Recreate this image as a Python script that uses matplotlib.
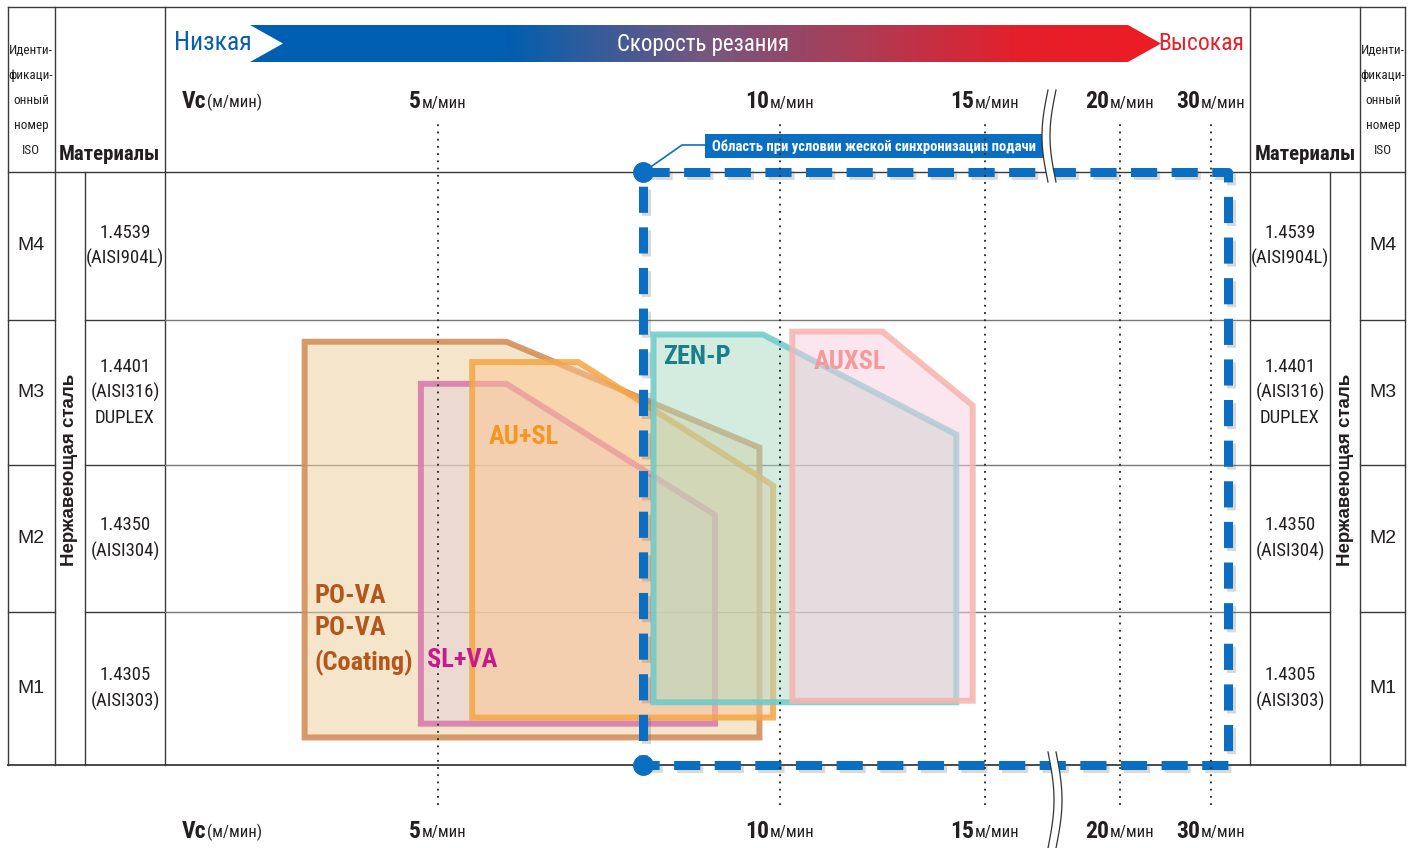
import matplotlib
matplotlib.use("Agg")
import matplotlib.pyplot as plt
import numpy as np
from matplotlib import patheffects
from matplotlib.colors import LinearSegmentedColormap
from matplotlib.offsetbox import AnnotationBbox, HPacker, TextArea
from matplotlib.patches import Polygon, Rectangle


# --- data -----------------------------------------------------------------
VC_TICKS = [5, 10, 15, 20, 30]                 # m/min
ISO_CODES = ["M1", "M2", "M3", "M4"]
MATERIALS = [
    "1.4305\n(AISI303)",
    "1.4350\n(AISI304)",
    "1.4401\n(AISI316)\nDUPLEX",
    "1.4539\n(AISI904L)",
]
GROUP = "Нержавеющая сталь"

TOOLS = ["PO-VA", "SL+VA", "AU+SL", "ZEN-P", "AUXSL"]
VC_MIN = [3.05, 4.75, 5.5, 8.15, 10.3]
VC_KNEE = [6.0, 6.0, 7.05, 9.75, 12.5]
VC_MAX = [9.7, 9.05, 9.9, 14.3, 14.7]
ROW_LOW = [0.18, 0.27, 0.31, 0.41, 0.42]      # 0 = bottom of M1, 4 = top of M4
ROW_HIGH = [2.85, 2.56, 2.71, 2.90, 2.92]
ROW_KNEE = [2.12, 1.66, 1.86, 2.21, 2.41]

SYNC_VC = [8.0, 31.9]
SYNC_ROWS = [0.0, 4.0]

# --- layout ---------------------------------------------------------------
W, H = 1411, 848
VC_TICK_PX = [438, 780, 985, 1120, 1211]       # broken, non-linear speed axis
ROW_EDGE_PX = [765, 612, 465, 320, 172]
CHART_X = (165, 1250)

FILL = ["#ebcd99", "#e5ced4", "#fdc690", "#abd9c1", "#f9cddf"]
EDGE = ["#d08a55", "#d676ab", "#f5a645", "#6ccaca", "#f6b4ae"]
LABEL_COLOR = ["#b5561c", "#c81a8c", "#f5961e", "#17808a", "#f59a9a"]
BLUE = "#0a6fc2"
INK = "#231f20"

NARROW = dict(family=["Roboto Condensed", "DejaVu Sans"], fontstretch="condensed")
SANS = dict(family=["Liberation Sans", "DejaVu Sans"])


def piecewise(x, xs, ys):
    x = np.asarray(x, dtype=float)
    xs = np.asarray(xs, dtype=float)
    ys = np.asarray(ys, dtype=float)
    y = np.interp(x, xs, ys)
    left = ys[0] + (x - xs[0]) * (ys[1] - ys[0]) / (xs[1] - xs[0])
    right = ys[-1] + (x - xs[-1]) * (ys[-1] - ys[-2]) / (xs[-1] - xs[-2])
    return np.where(x < xs[0], left, np.where(x > xs[-1], right, y))


def vc_fwd(v):
    return piecewise(v, VC_TICKS, VC_TICK_PX)


def vc_inv(p):
    return piecewise(p, VC_TICK_PX, VC_TICKS)


NEG_ROW_PX = [-p for p in ROW_EDGE_PX]


def row_fwd(r):
    return piecewise(r, range(5), NEG_ROW_PX)


def row_inv(p):
    return piecewise(p, NEG_ROW_PX, range(5))


def unit_label(first, second, size_first, size_second):
    parts = [
        TextArea(first, textprops=dict(fontsize=size_first, fontweight="bold",
                                       color=INK, **NARROW)),
        TextArea(second, textprops=dict(fontsize=size_second, color=INK, **NARROW)),
    ]
    return HPacker(children=parts, align="baseline", pad=0, sep=0.5)


fig = plt.figure(figsize=(W / 100, H / 100), dpi=100)
fig.patch.set_facecolor("white")

# frame axes in pixel units for the table around the chart
frame = fig.add_axes([0, 0, 1, 1])
frame.set_xlim(0, W)
frame.set_ylim(H, 0)
frame.axis("off")

ax = fig.add_axes([CHART_X[0] / W, (H - ROW_EDGE_PX[0]) / H,
                   (CHART_X[1] - CHART_X[0]) / W, (ROW_EDGE_PX[0] - ROW_EDGE_PX[-1]) / H])
ax.set_xscale("function", functions=(vc_fwd, vc_inv))
ax.set_yscale("function", functions=(row_fwd, row_inv))
ax.set_xlim(float(vc_inv(CHART_X[0])), float(vc_inv(CHART_X[1])))
ax.set_ylim(0, 4)
ax.axis("off")
ax.patch.set_visible(False)

# table lines
line_kw = dict(color="#3a3a3a", lw=1.0)
top, bottom = 7, ROW_EDGE_PX[0]
frame.plot([8, 1405], [top, top], **line_kw)
frame.plot([8, 1405], [ROW_EDGE_PX[-1]] * 2, **line_kw)
frame.plot([8, 1405], [bottom, bottom], color="#3a3a3a", lw=1.3)
for x in [8, 55, 165, 1250, 1360, 1405]:
    frame.plot([x, x], [top, bottom], **line_kw)
for x in [85, 1330]:
    frame.plot([x, x], [ROW_EDGE_PX[-1], bottom], **line_kw)
for y in ROW_EDGE_PX[1:-1]:
    frame.plot([8, 55], [y, y], **line_kw)
    frame.plot([85, 165], [y, y], **line_kw)
    frame.plot([1250, 1330], [y, y], **line_kw)
    frame.plot([1360, 1405], [y, y], **line_kw)
for r in range(1, 4):
    ax.axhline(r, color="#7a7a7a", lw=1.0, zorder=0.5)

# header texts
iso_head = "Иденти-\nфикаци-\nонный\nномер\nISO"
for x in [31, 1383]:
    frame.text(x, 100, iso_head, ha="center", va="center", fontsize=9.5,
               color=INK, linespacing=2.2, **NARROW)
for x in [109, 1305]:
    frame.text(x, 155, "Материалы", ha="center", va="center", fontsize=15,
               fontweight="bold", color=INK, **NARROW)

# row labels
for i in range(4):
    yc = (ROW_EDGE_PX[i] + ROW_EDGE_PX[i + 1]) / 2
    for x in [31, 1383]:
        frame.text(x, yc, ISO_CODES[i], ha="center", va="center", fontsize=14,
                   color=INK, **SANS)
    for x in [125, 1290]:
        frame.text(x, yc, MATERIALS[i], ha="center", va="center", fontsize=13.5,
                   color=INK, linespacing=1.5, **NARROW)
for x in [70, 1346]:
    frame.text(x, 470, GROUP, rotation=90, ha="center", va="center", fontsize=13.5,
               fontweight="bold", color=INK, **SANS)

# cutting speed banner
cmap = LinearSegmentedColormap.from_list(
    "speed", [(0, "#005fb0"), (0.28, "#005fb0"), (0.5, "#76577f"),
              (0.85, "#e61f2a"), (1, "#ec1c24")])
banner = Polygon([(250, 25), (1128, 25), (1161, 43.5), (1128, 62), (250, 62), (283, 43.5)],
                 closed=True, facecolor="none", edgecolor="none")
frame.add_patch(banner)
img = frame.imshow(np.linspace(0, 1, 256)[None, :], extent=[250, 1161, 62, 25],
                   cmap=cmap, aspect="auto", interpolation="bilinear", zorder=2)
img.set_clip_path(banner)
frame.set_xlim(0, W)
frame.set_ylim(H, 0)
frame.text(703, 44, "Скорость резания", ha="center", va="center", fontsize=16.5,
           color="white", zorder=3, **NARROW)
frame.text(174, 43, "Низкая", ha="left", va="center", fontsize=18.5,
           color="#0a5fae", **NARROW)
frame.text(1244, 43, "Высокая", ha="right", va="center", fontsize=17,
           color="#e8202a", **NARROW)

# speed labels top and bottom
for y_px in [101, 831]:
    frame.add_artist(AnnotationBbox(unit_label("Vc", "(м/мин)", 17, 12), (222, y_px),
                                    xycoords="data", frameon=False,
                                    box_alignment=(0.5, 0.5), pad=0))
    y_ax = (ROW_EDGE_PX[0] - y_px) / (ROW_EDGE_PX[0] - ROW_EDGE_PX[-1])
    for v in VC_TICKS:
        ab = AnnotationBbox(unit_label(str(v), "м/мин", 17, 12), (v, y_ax),
                            xycoords=ax.get_xaxis_transform(), frameon=False,
                            box_alignment=(0.5, 0.5), pad=0, annotation_clip=False)
        ax.add_artist(ab)

# tool application areas
for i, tool in enumerate(TOOLS):
    verts = [(VC_MIN[i], ROW_LOW[i]), (VC_MIN[i], ROW_HIGH[i]), (VC_KNEE[i], ROW_HIGH[i]),
             (VC_MAX[i], ROW_KNEE[i]), (VC_MAX[i], ROW_LOW[i])]
    ax.add_patch(Polygon(verts, closed=True, facecolor=FILL[i], alpha=0.5,
                         edgecolor="none", zorder=2 + i))
    ax.add_patch(Polygon(verts, closed=True, facecolor="none", edgecolor=EDGE[i],
                         alpha=0.85, lw=4.3, joinstyle="miter", zorder=2 + i))

label_kw = dict(fontsize=19, fontweight="bold", va="center", ha="left",
                transform=frame.transData, zorder=20, **NARROW)
ax.text(315, 596, "PO-VA", color=LABEL_COLOR[0], **label_kw)
ax.text(315, 628, "PO-VA", color=LABEL_COLOR[0], **label_kw)
ax.text(315, 663, "(Coating)", color=LABEL_COLOR[0], **label_kw)
ax.text(427, 660, "SL+VA", color=LABEL_COLOR[1], **label_kw)
ax.text(489, 437, "AU+SL", color=LABEL_COLOR[2], **label_kw)
ax.text(663, 357, "ZEN-P", color=LABEL_COLOR[3], **label_kw)
ax.text(814, 362, "AUXSL", color=LABEL_COLOR[4], **label_kw)

# rigid feed synchronisation area
v0, v1 = SYNC_VC
r0, r1 = SYNC_ROWS
ax.plot([v0, v1, v1, v0, v0], [r1, r1, r0, r0, r1], color=BLUE, lw=6.5,
        dashes=(2.9, 1.6), solid_joinstyle="round", dash_joinstyle="round",
        dash_capstyle="butt", clip_on=False, zorder=12,
        path_effects=[patheffects.SimpleLineShadow(offset=(2, -2), shadow_color="#555",
                                                   alpha=0.22),
                      patheffects.Normal()])
ax.plot([v0, v0], [r1, r0], "o", color=BLUE, ms=14, clip_on=False, zorder=13)

frame.add_patch(Rectangle((705, 134), 338, 24, facecolor=BLUE, edgecolor="none", zorder=3))
frame.text(874, 146.5, "Область при условии жеской синхронизации подачи", ha="center",
           va="center", fontsize=10.5, fontweight="bold", color="white", zorder=4, **NARROW)
frame.plot([705, 682, 652], [145, 145, 166], color=BLUE, lw=1.2, zorder=3)

# dotted speed grid
for v in VC_TICKS:
    ax.axvline(v, ymin=-0.067, ymax=1.088, color="#222", lw=1.3, ls=(0, (1, 3)),
               clip_on=False, zorder=15)

# axis break marks
for y0, y1, bend in [(90, 182, -1), (752, 848, 1)]:
    t = np.linspace(0, 1, 60)
    yy = y0 + t * (y1 - y0)
    xc = 1052 + bend * 6 * np.sin(np.pi * t)
    gap = Polygon(np.column_stack([np.r_[xc - 4, (xc + 4)[::-1]], np.r_[yy, yy[::-1]]]),
                  closed=True, facecolor="white", edgecolor="none",
                  transform=frame.transData, zorder=16)
    ax.add_patch(gap)
    gap.set_clip_on(False)
    for dx in (-4, 4):
        ax.plot(xc + dx, yy, color="#333", lw=0.9, transform=frame.transData,
                clip_on=False, zorder=17)

fig.savefig("out.png", dpi=100, facecolor="white")
